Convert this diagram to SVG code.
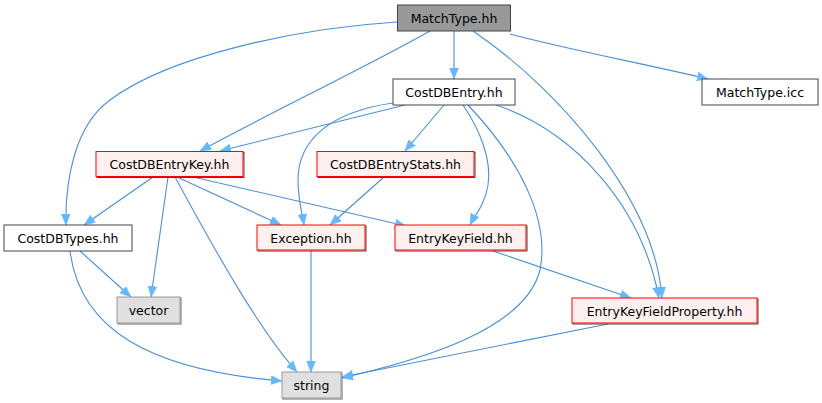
<svg xmlns="http://www.w3.org/2000/svg" width="822" height="403" viewBox="0 0 822 403">
<style>
text{font-family:"DejaVu Sans",sans-serif;font-size:12.5px;fill:#000;text-anchor:middle}
.root{fill:#999999;stroke:#444444}
.plain{fill:#ffffff;stroke:#444444}
.red{fill:#fff0f0;stroke:#ff0000}
.gray{fill:#e0e0e0;stroke:#999999}
.sh{fill:none;stroke:#444444}
.gsh{fill:none;stroke:#666666}
.e{fill:none;stroke:#4a90d4;stroke-width:1.1;marker-end:url(#ah)}
</style>
<defs>
<marker id="ah" markerUnits="userSpaceOnUse" markerWidth="12" markerHeight="10" refX="11" refY="4.5" orient="auto">
<path d="M0,0 L11,4.5 L0,9 z" fill="#63b8ff" stroke="#63b8ff" stroke-width="0.5"/>
</marker>
</defs>
<g id="edges">
<path class="e" d="M454,31 L454,79"/>
<path class="e" d="M510,34 C570,50 650,65 708,79"/>
<path class="e" d="M430,31 C370,65 260,118 200,151"/>
<path class="e" d="M397,22 C300,28 170,55 110,100 C75,125 65,180 66,225"/>
<path class="e" d="M473,31 C560,90 655,200 662,298"/>
<path class="e" d="M405,105 L220,151"/>
<path class="e" d="M444,105 L405,151"/>
<path class="e" d="M393,103 C330,112 298,140 298,180 C298,200 302,212 304,225"/>
<path class="e" d="M463,105 C480,130 492,160 488,185 C485,205 475,215 470,225"/>
<path class="e" d="M468,105 C520,160 550,220 540,270 C525,330 420,360 342,378"/>
<path class="e" d="M496,105 C570,130 640,200 659,298"/>
<path class="e" d="M153,177 L84,225"/>
<path class="e" d="M168,177 L151,297"/>
<path class="e" d="M177,177 L281,225"/>
<path class="e" d="M193,177 L406,226"/>
<path class="e" d="M175,177 C220,260 260,330 297,372"/>
<path class="e" d="M384,177 L330,225"/>
<path class="e" d="M80,251 L131,297"/>
<path class="e" d="M70,251 C80,330 150,370 282,381"/>
<path class="e" d="M311,251 L311,372"/>
<path class="e" d="M493,251 L631,298"/>
<path class="e" d="M608,324 L342,377"/>
</g>
<g id="n_matchtype_hh"><rect class="root" x="397.5" y="5" width="113" height="26"/><text x="454" y="23">MatchType.hh</text></g>
<g id="n_costdbentry_hh"><rect class="plain" x="393" y="79" width="122" height="26"/><text x="454" y="97">CostDBEntry.hh</text></g>
<g id="n_matchtype_icc"><rect class="plain" x="702" y="79" width="116" height="26"/><text x="760" y="97">MatchType.icc</text></g>
<g id="n_costdbentrykey_hh"><rect class="sh" x="97" y="152.5" width="147" height="25"/><rect class="red" x="96" y="151.5" width="147" height="25"/><text x="169.5" y="169">CostDBEntryKey.hh</text></g>
<g id="n_costdbentrystats_hh"><rect class="sh" x="318" y="152.5" width="157" height="25"/><rect class="red" x="317" y="151.5" width="157" height="25"/><text x="395.5" y="169">CostDBEntryStats.hh</text></g>
<g id="n_costdbtypes_hh"><rect class="plain" x="4" y="225" width="128" height="26"/><text x="68" y="243">CostDBTypes.hh</text></g>
<g id="n_exception_hh"><rect class="sh" x="258" y="226" width="108" height="25"/><rect class="red" x="257" y="225" width="108" height="25"/><text x="311" y="243">Exception.hh</text></g>
<g id="n_entrykeyfield_hh"><rect class="sh" x="396" y="226" width="131" height="25"/><rect class="red" x="395" y="225" width="131" height="25"/><text x="460.5" y="243">EntryKeyField.hh</text></g>
<g id="n_vector"><rect class="gsh" x="118" y="298" width="63" height="26"/><rect class="gray" x="117" y="297" width="63" height="26"/><text x="148.5" y="315">vector</text></g>
<g id="n_entrykeyfieldproperty_hh"><rect class="sh" x="573" y="299" width="185" height="25"/><rect class="red" x="572" y="298" width="185" height="25"/><text x="664.5" y="316">EntryKeyFieldProperty.hh</text></g>
<g id="n_string"><rect class="gsh" x="283" y="373" width="59" height="26"/><rect class="gray" x="282" y="372" width="59" height="26"/><text x="311.5" y="390">string</text></g>
</svg>
